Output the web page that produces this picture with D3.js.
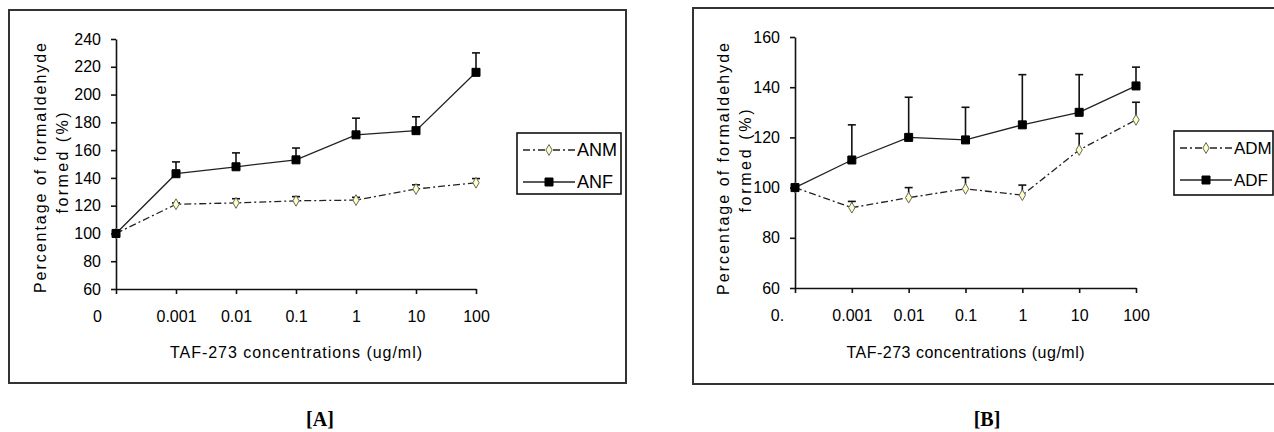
<!DOCTYPE html>
<html>
<head>
<meta charset="utf-8">
<script src="https://cdn.jsdelivr.net/npm/d3@7"></script>
<style>
  body { margin: 0; background: #fff; }
  svg { display: block; font-family: "Liberation Sans", Arial, sans-serif; }
</style>
</head>
<body>
<svg id="chart" width="1274" height="432"></svg>
<script>
// categories (x axis labels)
const concA = ["0", "0.001", "0.01", "0.1", "1", "10", "100"];
const concB = ["0.", "0.001", "0.01", "0.1", "1", "10", "100"];

// panel A values (% formaldehyde formed) and upper error bars
const anmValues = [100, 121, 122, 123.5, 124, 132, 136.5];
const anmErrors = [0, 1, 3, 3, 2, 3, 3];
const anfValues = [100, 143, 148, 153, 171, 174, 216];
const anfErrors = [0, 8.5, 10, 8.5, 12, 10, 14];

// panel B values
const admValues = [100, 92, 96, 99.5, 97, 115, 127];
const admErrors = [0, 2.5, 4, 4.5, 4, 6.5, 7];
const adfValues = [100, 111, 120, 119, 125, 130, 140.5];
const adfErrors = [0, 14, 16, 13, 20, 15, 7.5];

const yTicksA = [60, 80, 100, 120, 140, 160, 180, 200, 220, 240];
const yTicksB = [60, 80, 100, 120, 140, 160];

const svg = d3.select("#chart");

function drawPanel(p) {
    const g = svg.append("g");

    // outer frame
    g.append("rect")
        .attr("x", p.frame[0]).attr("y", p.frame[1])
        .attr("width", p.frame[2]).attr("height", p.frame[3])
        .attr("fill", "none").attr("stroke", "#333").attr("stroke-width", 2);

    const x = d3.scalePoint().domain(d3.range(p.cats.length)).range(p.xRange);
    const y = d3.scaleLinear().domain(p.yDomain).range(p.yRange);

    const yAxis = g.append("g")
        .attr("transform", `translate(${p.xRange[0]},0)`)
        .call(d3.axisLeft(y).tickValues(p.yTicks).tickSize(5).tickSizeOuter(0).tickPadding(10));

    const xAxis = g.append("g")
        .attr("transform", `translate(0,${p.yRange[0]})`)
        .call(d3.axisBottom(x).tickSize(5).tickSizeOuter(0).tickPadding(17).tickFormat(i => p.cats[i]));

    [yAxis, xAxis].forEach(a => {
        a.selectAll("path, line").attr("stroke", "#111").attr("stroke-width", 1.6);
        a.selectAll("text").attr("fill", "#000").style("font-size", "16px")
            .style("font-family", "'Liberation Sans', Arial, sans-serif");
    });
    xAxis.selectAll(".tick").filter(i => i === 0).select("text").attr("dx", p.zeroShift);

    // axis titles
    g.append("text")
        .attr("x", (p.xRange[0] + p.xRange[1]) / 2)
        .attr("y", p.xTitleY)
        .attr("dy", "0.35em")
        .attr("text-anchor", "middle")
        .attr("textLength", p.xTitleLen).attr("lengthAdjust", "spacing")
        .style("font-size", "16px").attr("fill", "#000")
        .text("TAF-273 concentrations (ug/ml)");

    p.yTitle.forEach(t => {
        g.append("text")
            .attr("transform", `translate(${t.x},${t.y}) rotate(-90)`)
            .attr("dy", "0.35em")
            .attr("text-anchor", "middle")
            .attr("textLength", t.len).attr("lengthAdjust", "spacing")
            .style("font-size", "16px").attr("fill", "#000")
            .text(t.text);
    });

    const line = d3.line()
        .x((d, i) => x(i))
        .y(d => y(d));

    p.series.forEach(s => {
        // error bars (upper only)
        const eb = g.append("g");
        s.values.forEach((v, i) => {
            if (!s.errors[i]) return;
            const top = y(v + s.errors[i]);
            eb.append("line")
                .attr("x1", x(i)).attr("x2", x(i))
                .attr("y1", y(v)).attr("y2", top)
                .attr("stroke", "#111").attr("stroke-width", 1.6);
            eb.append("line")
                .attr("x1", x(i) - 4).attr("x2", x(i) + 4)
                .attr("y1", top).attr("y2", top)
                .attr("stroke", "#111").attr("stroke-width", 1.6);
        });

        g.append("path")
            .datum(s.values)
            .attr("d", line)
            .attr("fill", "none")
            .attr("stroke", "#222")
            .attr("stroke-width", 1.3)
            .attr("stroke-dasharray", s.dash);

        g.selectAll(null)
            .data(s.values)
            .enter().append("path")
            .attr("transform", (d, i) => `translate(${x(i)},${y(d)})`)
            .attr("d", d3.symbol(s.square ? d3.symbolSquare : d3.symbolDiamond, s.square ? 64 : 34)())
            .attr("fill", s.square ? "#000" : "#ffffc4")
            .attr("stroke", s.square ? "#000" : "#666")
            .attr("stroke-width", 1);
    });

    // legend
    const lg = g.append("g");
    lg.append("rect")
        .attr("x", p.legend.x).attr("y", p.legend.y)
        .attr("width", p.legend.w).attr("height", p.legend.h)
        .attr("fill", "#fff").attr("stroke", "#111").attr("stroke-width", 1.6);
    p.series.forEach((s, i) => {
        const ly = p.legend.y + 17 + i * 32;
        const lx0 = p.legend.x + 6, lx1 = lx0 + 52;
        lg.append("line")
            .attr("x1", lx0).attr("x2", lx1).attr("y1", ly).attr("y2", ly)
            .attr("stroke", "#222").attr("stroke-width", 1.3)
            .attr("stroke-dasharray", s.dash);
        lg.append("path")
            .attr("transform", `translate(${(lx0 + lx1) / 2},${ly})`)
            .attr("d", d3.symbol(s.square ? d3.symbolSquare : d3.symbolDiamond, s.square ? 64 : 34)())
            .attr("fill", s.square ? "#000" : "#ffffc4")
            .attr("stroke", s.square ? "#000" : "#666");
        lg.append("text")
            .attr("x", lx1 + 2).attr("y", ly).attr("dy", "0.36em")
            .style("font-size", p.legend.fs + "px").attr("fill", "#000")
            .text(s.name);
    });

    // panel caption
    svg.append("text")
        .attr("x", p.caption.x).attr("y", p.caption.y)
        .attr("text-anchor", "middle")
        .style("font-family", "'Liberation Serif', 'DejaVu Serif', serif")
        .style("font-weight", "bold").style("font-size", "20px")
        .text(p.caption.text);
}

drawPanel({
    frame: [9, 10, 617, 373],
    cats: concA,
    xRange: [116, 476], yRange: [289, 39], yDomain: [60, 240], yTicks: yTicksA,
    zeroShift: -19,
    xTitleY: 352, xTitleLen: 252,
    yTitle: [
        { x: 40, y: 168, len: 250, text: "Percentage of formaldehyde" },
        { x: 62, y: 163, len: 101, text: "formed (%)" }
    ],
    series: [
        { name: "ANM", values: anmValues, errors: anmErrors, dash: "7,3,2,3", square: false },
        { name: "ANF", values: anfValues, errors: anfErrors, dash: null, square: true }
    ],
    legend: { x: 517, y: 133, w: 104, h: 61, fs: 18 },
    caption: { x: 320, y: 426, text: "[A]" }
});

drawPanel({
    frame: [693, 8, 590, 376],
    cats: concB,
    xRange: [795, 1136], yRange: [288, 37], yDomain: [60, 160], yTicks: yTicksB,
    zeroShift: -18,
    xTitleY: 352, xTitleLen: 238,
    yTitle: [
        { x: 723, y: 169, len: 252, text: "Percentage of formaldehyde" },
        { x: 745, y: 161, len: 103, text: "formed (%)" }
    ],
    series: [
        { name: "ADM", values: admValues, errors: admErrors, dash: "7,3,2,3", square: false },
        { name: "ADF", values: adfValues, errors: adfErrors, dash: null, square: true }
    ],
    legend: { x: 1174, y: 131, w: 99, h: 64, fs: 17 },
    caption: { x: 987, y: 426, text: "[B]" }
});
</script>
</body>
</html>
